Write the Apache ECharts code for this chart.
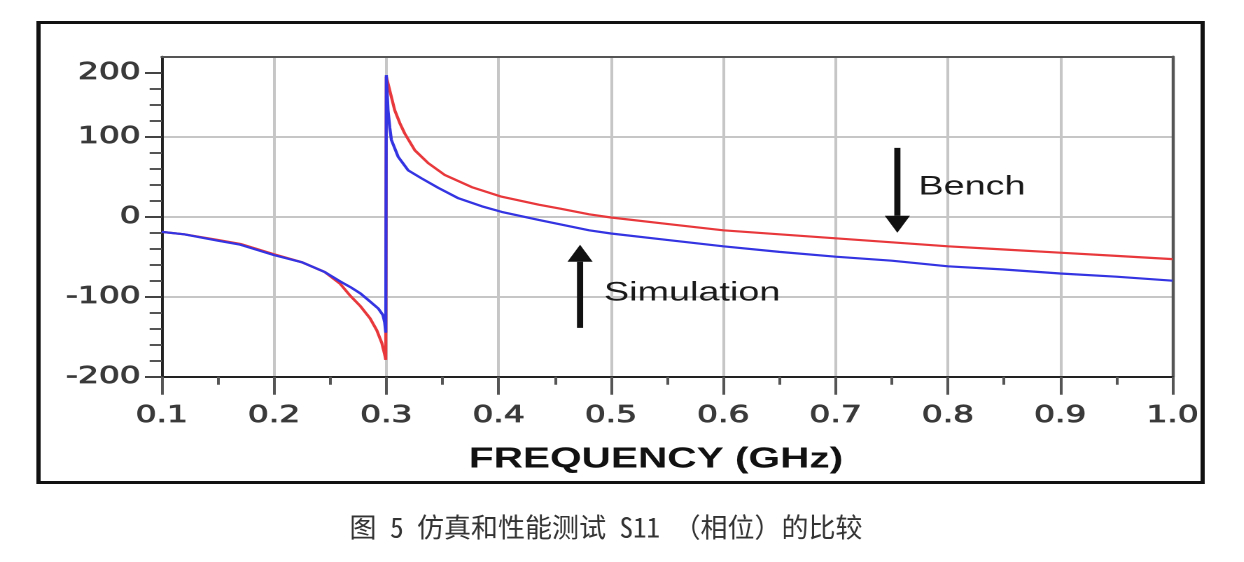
<!DOCTYPE html>
<html><head><meta charset="utf-8">
<script src="https://cdn.jsdelivr.net/npm/echarts@6/dist/echarts.min.js"></script>
<style>
html,body{margin:0;padding:0;background:#fff;overflow:hidden;}
#wrap{width:1244px;height:562px;position:relative;overflow:hidden;background:#fff;}
#chart{position:absolute;left:0;top:0;width:889px;height:562px;transform:scaleX(1.4);transform-origin:0 0;}
</style></head><body>
<div id="wrap"><div id="chart"></div></div>
<script>
// ---- data (frequency in GHz, phase of S11 in degrees) ----
const freqBench  = [0.1, 0.12, 0.15, 0.17, 0.2, 0.225, 0.245, 0.259, 0.268, 0.277, 0.2855, 0.2915, 0.296, 0.2985, 0.2995, 0.3, 0.303, 0.3075, 0.312, 0.3164, 0.3254, 0.3373, 0.3522, 0.376, 0.4027, 0.4357, 0.455, 0.4806, 0.5, 0.55, 0.6, 0.65, 0.7, 0.75, 0.8, 0.85, 0.9, 0.95, 1.0];
const phaseBench = [-19, -22, -29, -34, -47, -57, -69, -84, -99, -112, -127, -142, -158, -172, -179, 175, 158, 133, 117, 104, 83, 67, 52, 37, 25, 15, 10, 3, -1, -9, -17, -22, -27, -32, -37, -41, -45, -49, -53];
const freqSim    = [0.1, 0.12, 0.15, 0.17, 0.2, 0.225, 0.245, 0.259, 0.268, 0.277, 0.2855, 0.293, 0.297, 0.2985, 0.2995, 0.3, 0.3015, 0.303, 0.3045, 0.3105, 0.3194, 0.3313, 0.3463, 0.3642, 0.385, 0.4027, 0.4357, 0.4806, 0.5, 0.55, 0.6, 0.65, 0.7, 0.75, 0.8, 0.85, 0.9, 0.95, 1.0];
const phaseSim   = [-19, -22, -30, -35, -48, -57, -69, -81, -88, -96, -106, -115, -123, -132, -145, 177, 133, 112, 96, 75, 58, 48, 36, 23, 13, 6, -4, -17, -21, -29, -37, -44, -50, -55, -62, -66, -71, -75, -80];
const yTickValues = [-200, -100, 0, 100, 180];
const yTickLabels = ['-200', '-100', '0', '100', '200'];
const xAxisTitle = 'FREQUENCY (GHz)';
const benchLabel = 'Bench';
const simLabel = 'Simulation';
const caption = '图 5 仿真和性能测试 S11 （相位）的比较';
const benchArrow = {x: 0.755, from: 86, to: -20};
const simArrow = {x: 0.4725, from: -139, to: -35};

const SX = 1.4;
const zip = (a, b) => a.map((v, i) => [v, b[i]]);
const chart = echarts.init(document.getElementById('chart'), null, {devicePixelRatio: 2});
const labelFont = {fontSize: 23.5, fontWeight: 'normal', fontFamily: 'DejaVu Sans', color: '#3a3a3a',
                   textBorderColor: '#3a3a3a', textBorderWidth: 0.8};
const option = {
  animation: false,
  backgroundColor: '#fff',
  grid: {left: 115.5, top: 56.7, width: 722, height: 320, containLabel: false},
  xAxis: [
    {type: 'value', min: 0.1, max: 1.0, interval: 0.1, position: 'bottom',
     axisLine: {show: true, onZero: false, lineStyle: {color: '#222', width: 2}},
     axisTick: {show: true, length: 18, lineStyle: {color: '#555', width: 2}},
     minorTick: {show: true, splitNumber: 2, length: 8, lineStyle: {color: '#555', width: 2}},
     axisLabel: Object.assign({margin: 27, formatter: v => v.toFixed(1)}, labelFont),
     splitLine: {show: true, lineStyle: {color: '#c6c6c6', width: 2}}},
    {type: 'value', min: 0.1, max: 1.0, position: 'top',
     axisLine: {show: true, onZero: false, lineStyle: {color: '#555', width: 2}},
     axisTick: {show: false}, axisLabel: {show: false}, splitLine: {show: false}}
  ],
  yAxis: [
    {type: 'value', min: -200, max: 200, interval: 100, position: 'left',
     axisLine: {show: true, onZero: false, lineStyle: {color: '#222', width: 2}},
     axisTick: {show: false},
     minorTick: {show: true, splitNumber: 5, length: 8.6, lineStyle: {color: '#555', width: 2}},
     axisLabel: {show: false},
     splitLine: {show: true, lineStyle: {color: '#c6c6c6', width: 2}}},
    {type: 'value', min: -200, max: 200, interval: 20, position: 'left',
     axisLine: {show: false},
     axisTick: {show: true, customValues: yTickValues, length: 12, lineStyle: {color: '#444', width: 2}},
     axisLabel: Object.assign({customValues: yTickValues, margin: 15,
       formatter: v => { const i = yTickValues.indexOf(Math.round(v)); return i >= 0 ? yTickLabels[i] : ''; }}, labelFont),
     splitLine: {show: false}},
    {type: 'value', min: -200, max: 200, position: 'right',
     axisLine: {show: true, onZero: false, lineStyle: {color: '#555', width: 2.2}},
     axisTick: {show: false}, axisLabel: {show: false}, splitLine: {show: false}}
  ],
  series: [
    {type: 'line', name: benchLabel, data: zip(freqBench, phaseBench), symbol: 'none',
     lineStyle: {color: '#e8383c', width: 2.2}, itemStyle: {color: '#e8383c'}, z: 3},
    {type: 'line', name: simLabel, data: zip(freqSim, phaseSim), symbol: 'none',
     lineStyle: {color: '#3434e2', width: 2.2}, itemStyle: {color: '#3434e2'}, z: 4}
  ]
};
chart.setOption(option);

function arrow(a, id) {
  const t = chart.convertToPixel({xAxisIndex: 0, yAxisIndex: 0}, [a.x, a.from]);
  const h = chart.convertToPixel({xAxisIndex: 0, yAxisIndex: 0}, [a.x, a.to]);
  const dir = h[1] > t[1] ? 1 : -1;
  const headLen = 17, headW = 18, shaftW = 4.4;
  const baseY = h[1] - dir * headLen;
  return [
    {type: 'rect', id: id + 's', z: 50,
     shape: {x: t[0] - shaftW / 2, y: Math.min(t[1], baseY), width: shaftW, height: Math.abs(baseY - t[1])},
     style: {fill: '#111'}},
    {type: 'polygon', id: id + 'h', z: 50,
     shape: {points: [[h[0] - headW / 2, baseY], [h[0] + headW / 2, baseY], [h[0], h[1]]]},
     style: {fill: '#111'}}
  ];
}
const bTxt = chart.convertToPixel({xAxisIndex: 0, yAxisIndex: 0}, [benchArrow.x, benchArrow.from]);
const sTxt = chart.convertToPixel({xAxisIndex: 0, yAxisIndex: 0}, [simArrow.x, simArrow.from]);
chart.setOption({
  graphic: [
    {type: 'rect', id: 'frame', z: 60, shape: {x: 27.5, y: 22.5, width: 831.5, height: 460},
     style: {fill: 'none', stroke: '#111', lineWidth: 3}},
    {type: 'text', id: 'xname', z: 60, x: 468.6, y: 459.5,
     style: {text: xAxisTitle, font: 'bold 29px "Liberation Sans", Arial, sans-serif', fill: '#111',
             textAlign: 'center', textVerticalAlign: 'middle'}},
    {type: 'text', id: 'bench', z: 60, x: bTxt[0] + 15, y: 187,
     style: {text: benchLabel, font: '27px "Liberation Sans", Arial, sans-serif', fill: '#1a1a1a',
             textAlign: 'left', textVerticalAlign: 'middle'}},
    {type: 'text', id: 'sim', z: 60, x: sTxt[0] + 17, y: 293,
     style: {text: simLabel, font: '27px "Liberation Sans", Arial, sans-serif', fill: '#1a1a1a',
             textAlign: 'left', textVerticalAlign: 'middle'}},
    {type: 'text', id: 'caption', z: 60, x: 606 / SX, y: 527, scaleX: 1 / SX,
     style: {text: caption, font: '27px "Noto Sans Mono CJK SC", "DejaVu Sans Mono", "Noto Sans CJK SC", sans-serif', fill: '#333',
             textAlign: 'center', textVerticalAlign: 'middle'}}
  ].concat(arrow(benchArrow, 'ba'), arrow(simArrow, 'sa'))
});
</script>
</body></html>
